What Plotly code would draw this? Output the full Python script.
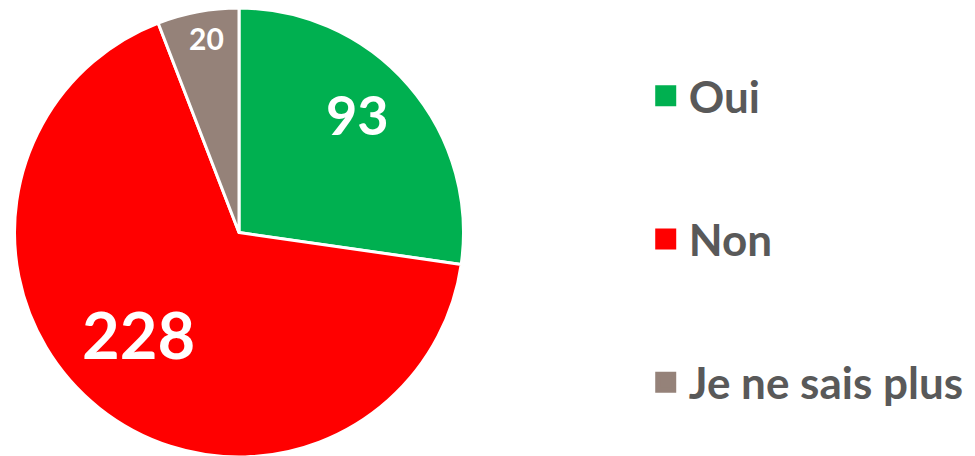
import numpy as np
import plotly.graph_objects as go

labels = ["Oui", "Non", "Je ne sais plus"]
values = [93, 228, 20]
colors = ["#00B050", "#FF0000", "#958279"]

# styling (not data)
label_sizes = [54, 65, 30]
label_radius_frac = [0.73, 0.65, 0.86]
label_angle_nudge_deg = [-3, 5, 1]
FONT = "Lato"
W, H = 975, 456
dom_x = [6.5 / W, 455.5 / W]
dom_y = [0.0154, 1]

fig = go.Figure()
fig.add_trace(go.Pie(
    labels=labels, values=values, sort=False, direction="clockwise", rotation=0,
    marker=dict(colors=colors, line=dict(color="white", width=3)),
    textinfo="none",
    domain=dict(x=dom_x, y=dom_y),
    showlegend=False, hoverinfo="label+value",
))

# value labels positioned from the data (slice mid-angles)
vals = np.array(values, dtype=float)
cum = np.cumsum(vals) - vals / 2
mid = cum / vals.sum() * 2 * np.pi + np.radians(label_angle_nudge_deg)
cx = (dom_x[0] + dom_x[1]) / 2
cy = (dom_y[0] + dom_y[1]) / 2
r_px = min((dom_x[1] - dom_x[0]) * W, (dom_y[1] - dom_y[0]) * H) / 2
for v, a, f, s in zip(values, mid, label_radius_frac, label_sizes):
    fig.add_annotation(
        x=cx + r_px * f * np.sin(a) / W, y=cy + r_px * f * np.cos(a) / H,
        xref="paper", yref="paper", text=str(v), showarrow=False,
        font=dict(family=FONT, size=s, color="white", weight="bold"),
        xanchor="center", yanchor="middle", yshift=4,
    )

for lab, col in zip(labels, colors):
    fig.add_trace(go.Scatter(
        x=[None], y=[None], mode="markers", name=lab, legendgroup=lab,
        marker=dict(symbol="square", size=16, color=col, line=dict(color=col, width=5)),
        showlegend=True,
    ))

fig.update_layout(
    width=W, height=H, margin=dict(l=0, r=0, t=0, b=0),
    paper_bgcolor="white", plot_bgcolor="white",
    xaxis=dict(visible=False), yaxis=dict(visible=False),
    legend=dict(x=0.651, y=0.493, xanchor="left", yanchor="middle",
                font=dict(family=FONT, size=44, color="#595959", weight="bold"),
                tracegroupgap=83, itemwidth=36, bgcolor="rgba(0,0,0,0)"),
)
fig.write_html("out.html")
